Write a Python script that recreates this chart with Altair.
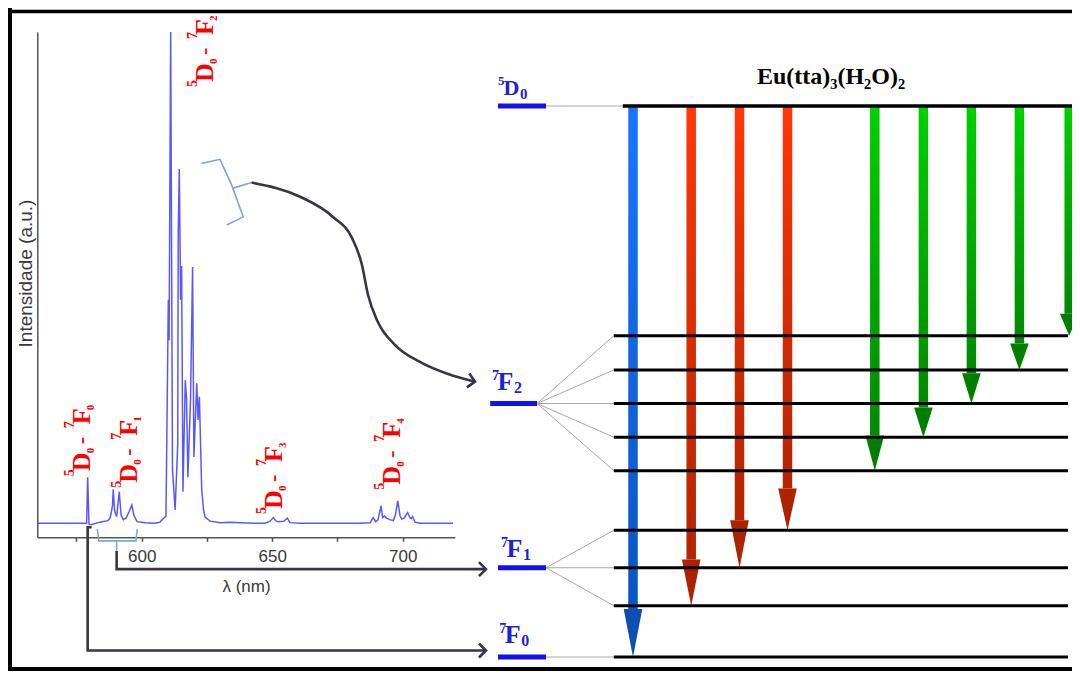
import altair as alt
import pandas as pd

W, H = 1064, 663

# ---------------- emission spectrum (wavelength nm, intensity a.u.) ----------------
WAVELENGTH = [560.0, 577.9, 578.9, 579.3, 579.8, 580.6, 584.0, 587.1, 588.0, 588.5,
              588.8, 589.1, 589.6, 590.0, 590.4, 591.4, 592.1, 593.0, 594.0, 595.1,
              596.2, 597.0, 598.2, 601.3, 605.1, 607.0, 608.5, 609.3, 610.2, 610.5,
              611.1, 611.8, 612.8, 613.8, 614.0, 614.4, 614.9, 615.3, 615.8, 616.7,
              617.2, 617.7, 618.7, 619.5, 620.0, 621.1, 621.6, 622.1, 623.0, 623.7,
              624.3, 626.2, 630.0, 633.8, 637.7, 643.4, 647.2, 649.2, 650.4, 651.5,
              652.6, 654.5, 655.8, 656.8, 660.7, 668.3, 676.0, 683.6, 687.5, 688.7,
              689.6, 690.5, 691.7, 692.3, 693.0, 693.8, 695.1, 696.4, 697.2, 698.1,
              699.0, 699.6, 700.5, 701.9, 702.8, 703.3, 703.8, 704.7, 706.6, 719.3]
INTENSITY = [2.8, 2.8, 2.8, 11.9, 2.6, 2.5, 3.0, 3.3, 4.0, 5.4,
             6.2, 9.5, 5.4, 4.6, 4.1, 9.0, 4.4, 3.5, 3.8, 5.0,
             6.4, 4.4, 3.1, 2.9, 2.8, 3.0, 3.8, 4.2, 47.0, 39.0,
             100.0, 13.3, 5.4, 18.3, 60.4, 72.9, 47.0, 53.7, 9.0, 31.1,
             27.2, 11.9, 27.2, 53.5, 15.9, 30.5, 23.2, 27.8, 9.4, 5.4,
             4.0, 3.2, 2.9, 3.0, 2.9, 2.8, 2.8, 3.2, 3.9, 3.2,
             3.1, 3.2, 3.8, 2.9, 2.8, 2.8, 2.8, 2.8, 2.9, 3.9,
             3.1, 3.4, 6.2, 3.9, 4.2, 3.8, 3.5, 3.3, 4.4, 7.2,
             4.2, 3.6, 3.8, 4.9, 3.9, 3.7, 4.1, 3.0, 2.8, 2.8]

# transition labels 5D0 - 7FJ placed on the spectrum
TR_WL = [580.2, 598.2, 627.3, 653.8, 699.0]
TR_INT = [12.1, 9.8, 89.1, 4.6, 9.4]
TR_J = ["0", "1", "2", "3", "4"]

# brackets (spectrum coordinates)
BRACKET_F2_WL = [623.0, 630.0, 634.5, 638.9, 632.6]
BRACKET_F2_INT = [74.0, 74.8, 69.7, 63.4, 61.8]
NUB_F2_WL = [635.0, 642.1]
NUB_F2_INT = [69.1, 70.2]
BRACKET_F1_WL = [583.0, 583.6, 597.8, 598.3]
BRACKET_F1_INT = [1.6, -0.7, -0.7, 1.6]
STEM_F1_WL = [590.4, 590.4]
STEM_F1_INT = [-0.7, -2.7]

# connectors to the level diagram (spectrum coordinates)
CURVE_WL = [642.1, 660.7, 673.3, 680.6, 684.4, 686.7, 690.5, 697.0, 706.6, 717.4, 727.7]
CURVE_INT = [70.2, 67.4, 63.4, 59.2, 53.9, 48.0, 42.6, 38.1, 34.7, 32.3, 30.8]
CONN_F1_WL = [590.4, 590.4, 731.9]
CONN_F1_INT = [-2.7, -6.3, -6.3]
CONN_F0_WL = [580.8, 579.3, 579.3, 731.9]
CONN_F0_INT = [2.0, 2.0, -22.4, -22.4]
HEAD_WL = [727.7, 731.9, 731.9]
HEAD_INT = [30.8, -6.3, -22.4]
HEAD_ANGLE = [10, 0, 0]

# ---------------- energy level diagram (schematic units) ----------------
D0_E = 100.0
F2_E = [58.3, 52.1, 46.0, 39.9, 33.8]
F1_E = [23.0, 16.2, 9.3]
F0_E = [0.0]
TOP_X = [23.8, 99.5]
SUB_X = [22.3, 98.0]

TERM_E = [100.0, 46.0, 16.2, 0.0]
TERM_X0 = [3.0, 1.7, 3.0, 3.0]
TERM_X1 = [11.0, 9.5, 11.0, 11.0]

F_LABEL_SUP = ["7", "7", "7"]
F_LABEL_MAIN = ["F", "F", "F"]
F_LABEL_SUB = ["2", "1", "0"]
F_LABEL_X = [2.0, 3.5, 3.2]
F_LABEL_E = [48.5, 18.1, 2.5]
D_LABEL_X = [3.0]
D_LABEL_E = [102.0]

TITLE = "Eu(tta)₃(H₂O)₂"
TITLE_X = [58.5]
TITLE_E = [104.0]

ARROW_GROUP = ["blue", "red", "red", "red", "green", "green", "green", "green", "green"]
ARROW_X = [25.5, 35.2, 43.25, 51.25, 65.8, 73.9, 81.9, 89.9, 98.2]
ARROW_TARGET = [0.0, 9.3, 16.2, 23.0, 33.8, 39.9, 46.0, 52.1, 58.3]
ARROW_HEAD = [8.7, 8.4, 8.6, 7.6, 6.4, 5.4, 5.5, 4.8, 4.0]

# ---------------- tables ----------------
spec_df = pd.DataFrame({"wl": WAVELENGTH, "inten": INTENSITY})
tr_df = pd.DataFrame({"wl": TR_WL, "inten": TR_INT, "j": TR_J})


def path_rows(name, wls, ints):
    return [{"path": name, "idx": i, "wl": w, "inten": v} for i, (w, v) in enumerate(zip(wls, ints))]


bracket_df = pd.DataFrame(path_rows("b2", BRACKET_F2_WL, BRACKET_F2_INT)
                          + path_rows("n2", NUB_F2_WL, NUB_F2_INT)
                          + path_rows("b1", BRACKET_F1_WL, BRACKET_F1_INT)
                          + path_rows("s1", STEM_F1_WL, STEM_F1_INT))
conn_df = pd.DataFrame(path_rows("c1", CONN_F1_WL, CONN_F1_INT)
                       + path_rows("c0", CONN_F0_WL, CONN_F0_INT))
curve_df = pd.DataFrame(path_rows("cv", CURVE_WL, CURVE_INT))
chev_df = pd.DataFrame({"wl": HEAD_WL, "inten": HEAD_INT, "ang": HEAD_ANGLE})

sub_E = F2_E + F1_E + F0_E
levels_df = pd.DataFrame({"E": sub_E, "x0": [SUB_X[0]] * len(sub_E), "x1": [SUB_X[1]] * len(sub_E)})
top_df = pd.DataFrame({"E": [D0_E], "x0": [TOP_X[0]], "x1": [TOP_X[1]]})
term_df = pd.DataFrame({"E": TERM_E, "x0": TERM_X0, "x1": TERM_X1})

fan_rows = [{"x": TERM_X1[0], "E": TERM_E[0], "x2": TOP_X[0], "E2": D0_E}]
for e in F2_E:
    fan_rows.append({"x": TERM_X1[1], "E": TERM_E[1], "x2": SUB_X[0], "E2": e})
for e in F1_E:
    fan_rows.append({"x": TERM_X1[2], "E": TERM_E[2], "x2": SUB_X[0], "E2": e})
for e in F0_E:
    fan_rows.append({"x": TERM_X1[3], "E": TERM_E[3], "x2": SUB_X[0], "E2": e})
fan_df = pd.DataFrame(fan_rows)

shaft_df = pd.DataFrame({
    "grp": ARROW_GROUP, "x": ARROW_X, "top": [D0_E] * len(ARROW_X),
    "hs": [t + h for t, h in zip(ARROW_TARGET, ARROW_HEAD)],
})
HEAD_HALF = 1.55
head_rows = []
for i, (g, x, t, h) in enumerate(zip(ARROW_GROUP, ARROW_X, ARROW_TARGET, ARROW_HEAD)):
    head_rows.append({"id": i, "grp": g, "E": t + h, "xl": x - HEAD_HALF, "xr": x + HEAD_HALF})
    head_rows.append({"id": i, "grp": g, "E": t, "xl": x, "xr": x})
head_df = pd.DataFrame(head_rows)

fl_df = pd.DataFrame({"x": F_LABEL_X, "E": F_LABEL_E, "sup": F_LABEL_SUP,
                      "main": F_LABEL_MAIN, "sub": F_LABEL_SUB})
dl_df = pd.DataFrame({"x": D_LABEL_X, "E": D_LABEL_E, "sup": ["5"], "main": ["D"], "sub": ["0"]})
title_df = pd.DataFrame({"x": TITLE_X, "E": TITLE_E, "t": [TITLE]})

# ---------------- scales / axes ----------------
AX_COL = "#555555"
TXT_COL = "#3a3a3a"
x_axis = alt.Axis(orient="bottom", offset=529.3 - H, values=[575, 600, 625, 650, 675, 700],
                  labelExpr="datum.value % 50 === 0 ? datum.label : ''",
                  grid=False, tickSize=4, tickColor=AX_COL, tickWidth=1.5,
                  domainColor=AX_COL, domainWidth=1.5,
                  labelFont="Liberation Sans", labelFontSize=17, labelColor=TXT_COL,
                  labelPadding=7.5, labelOverlap=False, labelFlush=False,
                  title="λ (nm)", titleFont="Liberation Sans", titleFontSize=17,
                  titleFontWeight="normal", titleColor=TXT_COL,
                  titleBaseline="alphabetic", titleX=238, titleY=54)
y_axis = alt.Axis(orient="left", offset=-29.3, ticks=False, labels=False, grid=False,
                  domainColor=AX_COL, domainWidth=1.5,
                  title="Intensidade (a.u.)", titleFont="Liberation Sans", titleFontSize=19,
                  titleFontWeight="normal", titleColor=TXT_COL, titleAngle=270,
                  titleAlign="center", titleBaseline="alphabetic", titleX=-5.8, titleY=265)

SX = alt.X("wl:Q", scale=alt.Scale(domain=[560, 720], range=[29.3, 446.9], nice=False, padding=0), axis=x_axis)
SY = alt.Y("inten:Q", scale=alt.Scale(domain=[0, 100], range=[529.3, 24.0], nice=False, padding=0), axis=y_axis)

dx_scale = alt.Scale(domain=[0, 100], range=[472, 1072], nice=False, padding=0)
dy_scale = alt.Scale(domain=[0, 100], range=[649, 98], nice=False, padding=0)


def DX(f):
    return alt.X(f"{f}:Q", scale=dx_scale, axis=None)


def DY(f):
    return alt.Y(f"{f}:Q", scale=dy_scale, axis=None)


def DX2(f):
    return alt.X2(f"{f}:Q")


def DY2(f):
    return alt.Y2(f"{f}:Q")


# ---------------- spectrum layers ----------------
spec_line = alt.Chart(spec_df).mark_line(color="#4646ff", strokeWidth=1.5, opacity=0.9).encode(x=SX, y=SY)

RED = "#ff0000"
tr_parts = [
    ("5", 14, 0, -16, False),
    ("D", 26, 5, 0, False),
    ("0", 11, 23, 4, False),
    ("-", 22, 32, -2, False),
    ("7", 14, 48, -16, False),
    ("F", 26, 52, 0, False),
    ("j", 11, 66, 4, True),
]
tr_layers = []
for txt, fs, ddx, ddy, is_field in tr_parts:
    base = alt.Chart(tr_df).mark_text(angle=270, align="left", baseline="alphabetic",
                                      font="Liberation Serif", fontWeight="bold",
                                      fontSize=fs, dx=ddx, dy=ddy, color=RED)
    tr_layers.append(base.encode(x=SX, y=SY,
                                 text=alt.Text("j:N") if is_field else alt.value(txt)))

brackets = alt.Chart(bracket_df).mark_line(color="#7fa7d6", strokeWidth=1.6).encode(
    x=SX, y=SY, detail="path:N", order="idx:Q")
connectors = alt.Chart(conn_df).mark_line(color="#3b3346", strokeWidth=2.6).encode(
    x=SX, y=SY, detail="path:N", order="idx:Q")
curve = alt.Chart(curve_df).mark_line(color="#3b3346", strokeWidth=2.6, interpolate="monotone").encode(
    x=SX, y=SY, order="idx:Q")
chevrons = alt.Chart(chev_df).mark_point(shape="M -1 -1 L 0 0 L -1 1", filled=False, size=196,
                                         strokeWidth=2.6, color="#3b3346", opacity=1).encode(
    x=SX, y=SY, angle=alt.Angle("ang:Q", scale=None))

spec_layer = alt.layer(spec_line, *tr_layers, brackets, connectors, curve, chevrons)

# ---------------- diagram layers ----------------
def grad(c0, c1):
    return alt.Gradient(gradient="linear", x1=0, x2=0, y1=0, y2=1,
                        stops=[alt.GradientStop(color=c0, offset=0), alt.GradientStop(color=c1, offset=1)])


GRADS = {"blue": ("#1a74ff", "#0a55c4"), "red": ("#ff370a", "#b32400"), "green": ("#00d000", "#008a00")}
shaft_layers = []
for g, (c0, c1) in GRADS.items():
    shaft_layers.append(
        alt.Chart(shaft_df).transform_filter(alt.datum.grp == g)
        .mark_bar(size=9.5, color=grad(c0, c1))
        .encode(x=DX("x"), y=DY("top"), y2=DY2("hs"))
    )
heads = alt.Chart(head_df).mark_area(orient="horizontal", opacity=1).encode(
    y=DY("E"), x=DX("xl"), x2=DX2("xr"), detail="id:N",
    color=alt.Color("grp:N", scale=alt.Scale(domain=["blue", "red", "green"],
                                             range=["#0b4fb2", "#ad2200", "#007e00"]), legend=None))

fans = alt.Chart(fan_df).mark_rule(color="#a8a8a8", strokeWidth=1).encode(
    x=DX("x"), y=DY("E"), x2=DX2("x2"), y2=DY2("E2"))
lvl = alt.Chart(levels_df).mark_rule(color="black", strokeWidth=3).encode(
    x=DX("x0"), x2=DX2("x1"), y=DY("E"))
top_lvl = alt.Chart(top_df).mark_rule(color="black", strokeWidth=3.5).encode(
    x=DX("x0"), x2=DX2("x1"), y=DY("E"))
terms = alt.Chart(term_df).mark_rule(color="#1212ee", strokeWidth=5).encode(
    x=DX("x0"), x2=DX2("x1"), y=DY("E"))

BLUE_TXT = "#1f1fd8"


def term_labels(df, main_fs, sup_fs, sub_fs, sub_dx, sup_dy, sub_dy):
    out = []
    for field, fs, ddx, ddy in [("sup", sup_fs, 0, sup_dy), ("main", main_fs, 5.5, 0), ("sub", sub_fs, sub_dx, sub_dy)]:
        out.append(alt.Chart(df).mark_text(align="left", baseline="alphabetic", font="Liberation Serif",
                                           fontWeight="bold", fontSize=fs, dx=ddx, dy=ddy, color=BLUE_TXT)
                   .encode(x=DX("x"), y=DY("E"), text=alt.Text(f"{field}:N")))
    return out


f_labels = term_labels(fl_df, 26, 14, 16, 22, -10, 3)
d_labels = term_labels(dl_df, 22, 13, 15, 22, -10, 4)

title = alt.Chart(title_df).mark_text(align="center", baseline="alphabetic", font="Liberation Serif",
                                      fontWeight="bold", fontSize=24, color="black").encode(
    x=DX("x"), y=DY("E"), text="t:N")

diag_layer = alt.layer(*shaft_layers, heads, fans, lvl, top_lvl, terms, *f_labels, *d_labels, title)

# ---------------- frame ----------------
one = pd.DataFrame({"a": [0]})
frame = alt.layer(
    alt.Chart(one).mark_rule(color="black", strokeWidth=5).encode(
        x=alt.value(1.5), y=alt.value(0), y2=alt.value(H)),
    alt.Chart(one).mark_rule(color="black", strokeWidth=3.5).encode(
        x=alt.value(0), x2=alt.value(W), y=alt.value(3.5)),
    alt.Chart(one).mark_rule(color="black", strokeWidth=4).encode(
        x=alt.value(0), x2=alt.value(W), y=alt.value(H - 2)),
)

chart = (
    alt.layer(spec_layer, diag_layer, frame)
    .resolve_scale(x="independent", y="independent")
    .properties(width=W, height=H, padding=0, autosize=alt.AutoSizeParams(type="none"))
    .configure_view(strokeWidth=0)
)

chart.save("out.html", embed_options={"renderer": "svg", "actions": False})
